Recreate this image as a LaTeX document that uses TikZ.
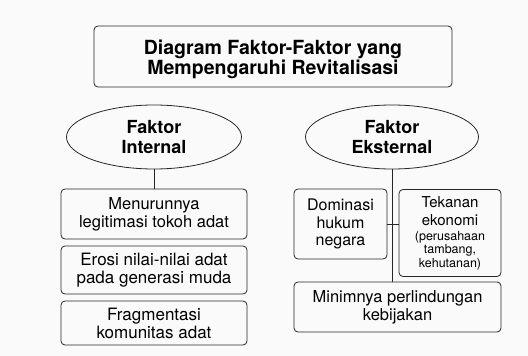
\documentclass[tikz,border=0pt]{standalone}
\usepackage{fontspec}
\setmainfont{TeX Gyre Heros}
\usetikzlibrary{shapes.geometric}
\newcommand\smtxt{\fontsize{12.5}{13.5}\selectfont}
\begin{document}
\begin{tikzpicture}[x=1pt,y=-1pt,
  line width=0.8pt,
  box/.style={draw=black!85, rounded corners=4pt, align=center, inner sep=0pt, font=\fontsize{16.5}{18}\selectfont},
  oval/.style={draw=black!85, ellipse, align=center, inner sep=0pt, font=\fontsize{18}{19.5}\selectfont\bfseries},
  link/.style={draw=black!85, line width=0.8pt}]
\fill[black!2] (0,0) rectangle (528,356);
\useasboundingbox (0,0) rectangle (528,356);
\node[box, minimum width=358pt, minimum height=61pt] (title) at (273,56.5) {};
\node[align=center, inner sep=0pt, font=\fontsize{19.5}{20.5}\selectfont\bfseries] (titletext) at (273,59.5) {Diagram Faktor-Faktor yang\\Mempengaruhi Revitalisasi};
\node[oval, minimum width=175pt, minimum height=64pt] (int) at (154,137) {Faktor\\Internal};
\node[oval, minimum width=173pt, minimum height=64pt] (ext) at (392,137) {Faktor\\Eksternal};
\node[box, minimum width=186pt, minimum height=50pt] (b1) at (154,214) {Menurunnya\\legitimasi tokoh adat};
\node[box, minimum width=186pt, minimum height=48pt, font=\fontsize{17}{18}\selectfont] (b2) at (154,270) {Erosi nilai-nilai adat\\pada generasi muda};
\node[box, minimum width=186pt, minimum height=44pt, font=\fontsize{17}{18}\selectfont] (b3) at (154,323) {Fragmentasi\\komunitas adat};
\node[box, minimum width=93pt, minimum height=70pt, font=\fontsize{16}{17.5}\selectfont] (dom) at (340.5,224) {Dominasi\\hukum\\negara};
\node[box, minimum width=102pt, minimum height=87pt, font=\fontsize{15}{18}\selectfont] (tek) at (450,233) {Tekanan\\ekonomi\\[-3pt]\smtxt (perusahaan\\[-4.5pt]\smtxt tambang,\\[-4.5pt]\smtxt kehutanan)};
\node[box, minimum width=207pt, minimum height=50pt] (min) at (397.5,307) {Minimnya perlindungan\\kebijakan};
\draw[link] (int.south) -- (b1.north);
\draw[link] (ext.south) -- (ext.south |- min.north);
\draw[link] (dom.east) -- (dom.east -| tek.west);
\end{tikzpicture}
\end{document}
